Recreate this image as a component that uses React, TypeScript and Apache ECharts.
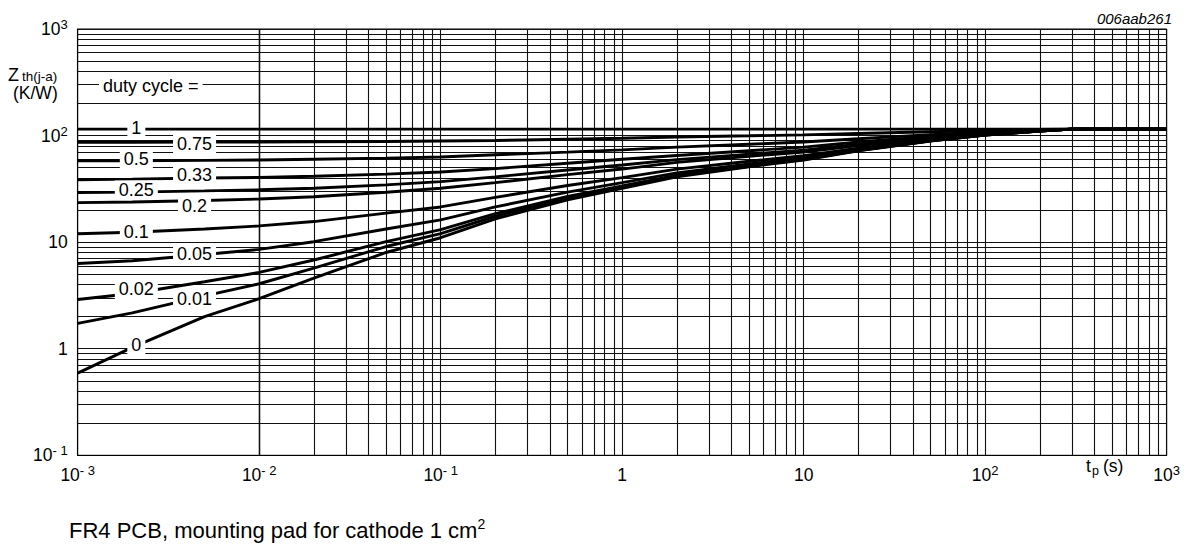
import React, { useEffect, useRef } from 'react';
import * as echarts from 'echarts';

// pulse duration (s)
const tp = [0.001, 0.002, 0.005, 0.01, 0.02, 0.05, 0.1, 0.2, 0.5, 1, 2, 5, 10, 20, 50, 100, 200, 300, 1000];

// Zth(j-a) in K/W for each duty cycle
const duty1 = [115, 115, 115, 115, 115, 115, 115, 115, 115, 115, 115, 115, 115, 115, 115, 115, 115, 115, 115];
const duty075 = [86.5, 86.5, 87, 87, 87.5, 88, 89, 90, 92.5, 94.5, 97, 99.5, 101.5, 104.5, 108.5, 111.5, 114, 115, 115];
const duty05 = [58, 58, 58.5, 59, 60, 61.5, 63, 66, 70, 73.5, 78, 83, 87, 93.5, 102, 108, 112.5, 115, 115];
const duty033 = [38.5, 39, 40, 40.5, 41.5, 43.5, 45.5, 49, 55, 60, 65, 72, 78, 87, 98, 106, 111.5, 115, 115];
const duty025 = [29.2, 29.5, 30.3, 31, 32, 34.5, 37, 41, 47.5, 53, 59.5, 67, 73, 83, 95.5, 104.5, 111, 115, 115];
const duty02 = [23.5, 23.8, 24.6, 25.4, 26.7, 29.4, 32, 36.2, 43, 48.5, 56, 64, 70, 80.5, 94, 104, 111, 115, 115];
const duty01 = [12.0, 12.4, 13.3, 14.2, 15.6, 18.7, 21.4, 26.3, 34, 40.3, 48.4, 57.4, 64.6, 76.3, 91.6, 102.4, 110.5, 115, 115];
const duty005 = [6.3, 6.7, 7.65, 8.55, 10.1, 13.3, 16.2, 21.4, 29.5, 36.2, 44.7, 54.2, 61.8, 74.2, 90.3, 101.7, 110.3, 115, 115];
const duty002 = [2.9, 3.3, 4.25, 5.2, 6.8, 10.1, 13.1, 18.5, 26.8, 33.7, 42.5, 52.3, 60.1, 72.9, 89.5, 101.3, 110.1, 115, 115];
const duty001 = [1.73, 2.17, 3.13, 4.07, 5.7, 9.1, 12.0, 17.5, 25.9, 32.8, 41.7, 51.6, 59.6, 72.4, 89.3, 101.1, 110, 115, 115];
const duty0 = [0.59, 1.03, 2.0, 2.95, 4.6, 8.0, 11.0, 16.5, 25, 32, 41, 51, 59, 72, 89, 101, 110, 115, 115];

const dutyNames = ['1', '0.75', '0.5', '0.33', '0.25', '0.2', '0.1', '0.05', '0.02', '0.01', '0'];
const dutyValues = [duty1, duty075, duty05, duty033, duty025, duty02, duty01, duty005, duty002, duty001, duty0];

// where each curve label sits: index into tp, and a small pixel nudge
const labelIndex = [1, 2, 1, 2, 1, 2, 1, 2, 1, 2, 1];
const labelOffsets = [[4, -1], [-10, 2], [4, -2], [-10, -3], [4, -2], [-10, 6], [4, 0], [-10, -1], [4, -4], [-10, 3], [4, -2]];

// axis ranges and minor grid multipliers
const xMin = 0.001;
const xMax = 1000;
const yMin = 0.1;
const yMax = 1000;
const minorSteps = [2, 3, 4, 5, 6, 7, 8, 9];
const xDecadeExps = [-3, -2, -1, 0, 1, 2];
const yDecadeExps = [-1, 0, 1, 2];

const FONT = '"Liberation Sans", Arial, Helvetica, sans-serif';

function expLabel(v: number): string {
  const e = Math.round(Math.log10(v));
  if (e === 0) return '{b|1}';
  if (e === 1) return '{b|10}';
  const s = e < 0 ? '- ' + -e : String(e);
  return '{b|10}{s|' + s + '}';
}

const richTick = {
  b: { fontSize: 17.5, lineHeight: 22, fontFamily: FONT, color: '#000' },
  s: { fontSize: 13, lineHeight: 12, verticalAlign: 'top', fontFamily: FONT, color: '#000' },
};

export default function App() {
  const ref = useRef<HTMLDivElement>(null);

  useEffect(() => {
    if (!ref.current) return;
    const chart = echarts.init(ref.current, undefined, { renderer: 'svg' });

    const xMinor: number[] = [];
    xDecadeExps.forEach((e) => minorSteps.forEach((m) => xMinor.push(m * Math.pow(10, e))));
    const yMinor: number[] = [];
    yDecadeExps.forEach((e) => minorSteps.forEach((m) => yMinor.push(m * Math.pow(10, e))));

    const gridLineColor = '#111';

    const series: any[] = dutyValues.map((vals, si) => {
      const idx = labelIndex[si];
      const s: any = {
        type: 'line',
        name: dutyNames[si],
        data: tp.map((t, i) => [t, vals[i]]),
        showSymbol: false,
        symbol: 'none',
        z: 3,
        lineStyle: { color: '#000', width: 2.9 },
        emphasis: { disabled: true },
        markPoint: {
          silent: true,
          z: 10,
          symbol: 'rect',
          symbolSize: 1,
          itemStyle: { color: '#fff' },
          label: {
            show: true,
            position: 'inside',
            formatter: dutyNames[si],
            color: '#000',
            fontSize: 18,
            fontFamily: FONT,
            backgroundColor: '#fff',
            padding: [1, 4, 0, 4],
            lineHeight: 18,
          },
          data: [{ coord: [tp[idx], vals[idx]], label: { offset: labelOffsets[si] } }],
        },
      };
      if (si === 0) {
        s.markLine = {
          silent: true,
          z: 1,
          symbol: ['none', 'none'],
          label: { show: false },
          emphasis: { disabled: true },
          lineStyle: { color: gridLineColor, width: 1.1, type: 'solid' },
          data: [...xMinor.map((v) => ({ xAxis: v })), ...yMinor.map((v) => ({ yAxis: v }))],
        };
      }
      return s;
    });

    const textStyle = (text: string, font: string, extra: any = {}) => ({
      text,
      font,
      fill: '#000',
      align: 'left',
      textAlign: 'left',
      verticalAlign: 'middle',
      textVerticalAlign: 'middle',
      ...extra,
    });

    chart.setOption({
      animation: false,
      backgroundColor: '#fff',
      grid: {
        left: 77.7,
        right: 22.3,
        top: 29,
        bottom: 88.7,
        show: true,
        borderColor: '#000',
        borderWidth: 1,
        backgroundColor: '#fff',
      },
      xAxis: {
        type: 'log',
        logBase: 10,
        min: xMin,
        max: xMax,
        splitNumber: 6,
        axisLine: { show: true, lineStyle: { color: '#000', width: 1 } },
        axisTick: { show: false },
        minorTick: { show: false },
        splitLine: { show: true, lineStyle: { color: gridLineColor, width: 1.1 } },
        axisLabel: {
          margin: 9,
          formatter: (v: number) => expLabel(v),
          rich: richTick,
        },
      },
      yAxis: {
        type: 'log',
        logBase: 10,
        min: yMin,
        max: yMax,
        splitNumber: 4,
        axisLine: { show: true, lineStyle: { color: '#000', width: 1 } },
        axisTick: { show: false },
        minorTick: { show: false },
        splitLine: { show: true, lineStyle: { color: gridLineColor, width: 1.1 } },
        axisLabel: {
          margin: 10,
          formatter: (v: number) => expLabel(v),
          rich: richTick,
        },
      },
      graphic: [
        {
          type: 'text',
          z: 100,
          x: 1172,
          y: 18,
          style: textStyle('006aab261', 'italic 15px ' + FONT, { align: 'right', textAlign: 'right' }),
        },
        { type: 'text', z: 100, x: 8, y: 74.5, style: textStyle('Z', '18px ' + FONT) },
        { type: 'text', z: 100, x: 22, y: 76, style: textStyle('th(j-a)', '13.5px ' + FONT) },
        { type: 'text', z: 100, x: 13, y: 93, style: textStyle('(K/W)', '17.5px ' + FONT) },
        {
          type: 'text',
          z: 100,
          x: 99,
          y: 86,
          style: textStyle('duty cycle =', '18px ' + FONT, { backgroundColor: '#fff', padding: [2, 4, 2, 4] }),
        },
        { type: 'text', z: 100, x: 1086, y: 466, style: textStyle('t', '17.5px ' + FONT) },
        { type: 'text', z: 100, x: 1092, y: 471, style: textStyle('p', '12.5px ' + FONT) },
        { type: 'text', z: 100, x: 1103, y: 466, style: textStyle('(s)', '17.5px ' + FONT) },
        {
          type: 'text',
          z: 100,
          x: 69,
          y: 530,
          style: textStyle('{a|FR4 PCB, mounting pad for cathode 1 cm}{s|2}', '22px ' + FONT, {
            rich: {
              a: { fontSize: 22, lineHeight: 26, fontFamily: FONT, fill: '#000', color: '#000' },
              s: { fontSize: 14, lineHeight: 14, verticalAlign: 'top', fontFamily: FONT, fill: '#000', color: '#000' },
            },
          }),
        },
      ],
      series,
    });

    return () => {
      chart.dispose();
    };
  }, []);

  return (
    <div
      ref={ref}
      style={{ position: 'absolute', left: 0, top: 0, width: 1189, height: 544, background: '#fff' }}
    />
  );
}
